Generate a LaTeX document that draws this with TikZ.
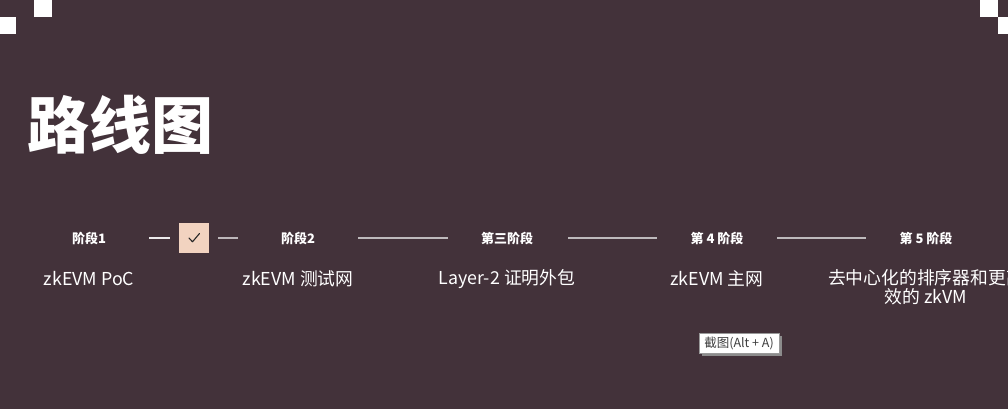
\documentclass[tikz,border=0pt]{standalone}
\usepackage{fontspec}
\setmainfont{Noto Sans CJK SC}
\definecolor{bg}{RGB}{67,50,58}
\definecolor{peach}{RGB}{242,211,192}
\definecolor{linec}{RGB}{190,186,188}
\begin{document}
\begin{tikzpicture}[x=1pt,y=-1pt,
  stagelbl/.style={text=white,font=\bfseries\fontsize{13}{15}\selectfont,inner sep=0pt},
  desclbl/.style={text=white,font=\fontsize{17.8}{19.5}\selectfont,inner sep=0pt,align=center},
  conn/.style={draw=linec,line width=1.1pt}]
\useasboundingbox (0,0) rectangle (1008,409);
\fill[bg] (0,0) rectangle (1008,409);
% corner squares
\fill[white] (34,0) rectangle (52,17);
\fill[white] (0,17) rectangle (16,34);
\fill[white] (980,0) rectangle (998,17);
\fill[white] (998,17) rectangle (1008,34);
% title
\node[anchor=west,inner sep=0pt,text=white,font=\bfseries\fontsize{62}{70}\selectfont] (title) at (27,125) {路线图};
% stage labels
\node[stagelbl] (s1) at (89,238) {阶段1};
\node[stagelbl] (s2) at (298,238) {阶段2};
\node[stagelbl] (s3) at (507,238) {第三阶段};
\node[stagelbl] (s4) at (717,238) {第 4 阶段};
\node[stagelbl] (s5) at (926,238) {第 5 阶段};
% checkbox
\node[fill=peach,minimum width=30pt,minimum height=30pt,inner sep=0pt] (chk) at (194,238) {};
\draw[black!85,line width=1.1pt,line cap=round,line join=round] ([shift={(-5,0)}]chk.center) -- ([shift={(-1.5,3.8)}]chk.center) -- ([shift={(5.5,-4.5)}]chk.center);
% connector end points
\coordinate (a1) at (149,238); \coordinate (a2) at (170,238);
\coordinate (b1) at (218,238); \coordinate (b2) at (238,238);
\coordinate (c1) at (358,238); \coordinate (c2) at (448,238);
\coordinate (e1) at (568,238); \coordinate (e2) at (657,238);
\coordinate (f1) at (777,238); \coordinate (f2) at (866,238);
\draw[draw=white!90!bg,line width=1.1pt] (a1) -- (a2);
\draw[draw=white!65!bg,line width=1.1pt] (b1) -- (b2);
\draw[conn] (c1) -- (c2);
\draw[conn] (e1) -- (e2);
\draw[conn] (f1) -- (f2);
% descriptions
\node[desclbl] (d1) at (89,279) {zkEVM PoC};
\node[desclbl] (d2) at (298,279) {zkEVM 测试网};
\node[desclbl] (d3) at (507,279) {Layer-2 证明外包};
\node[desclbl] (d4) at (717,279) {zkEVM 主网};
\node[desclbl,anchor=north] (d5) at (926,269) {去中心化的排序器和更高\\效的 zkVM};
% tooltip
\fill[black!45] (702,336) rectangle (782,356);
\node[draw=black!40,fill=white,line width=0.6pt,minimum width=80pt,minimum height=20pt,inner sep=0pt,text=black!75,font=\fontsize{12.5}{14}\selectfont] (tip) at (739,343) {截图(Alt + A)};
\end{tikzpicture}
\end{document}
